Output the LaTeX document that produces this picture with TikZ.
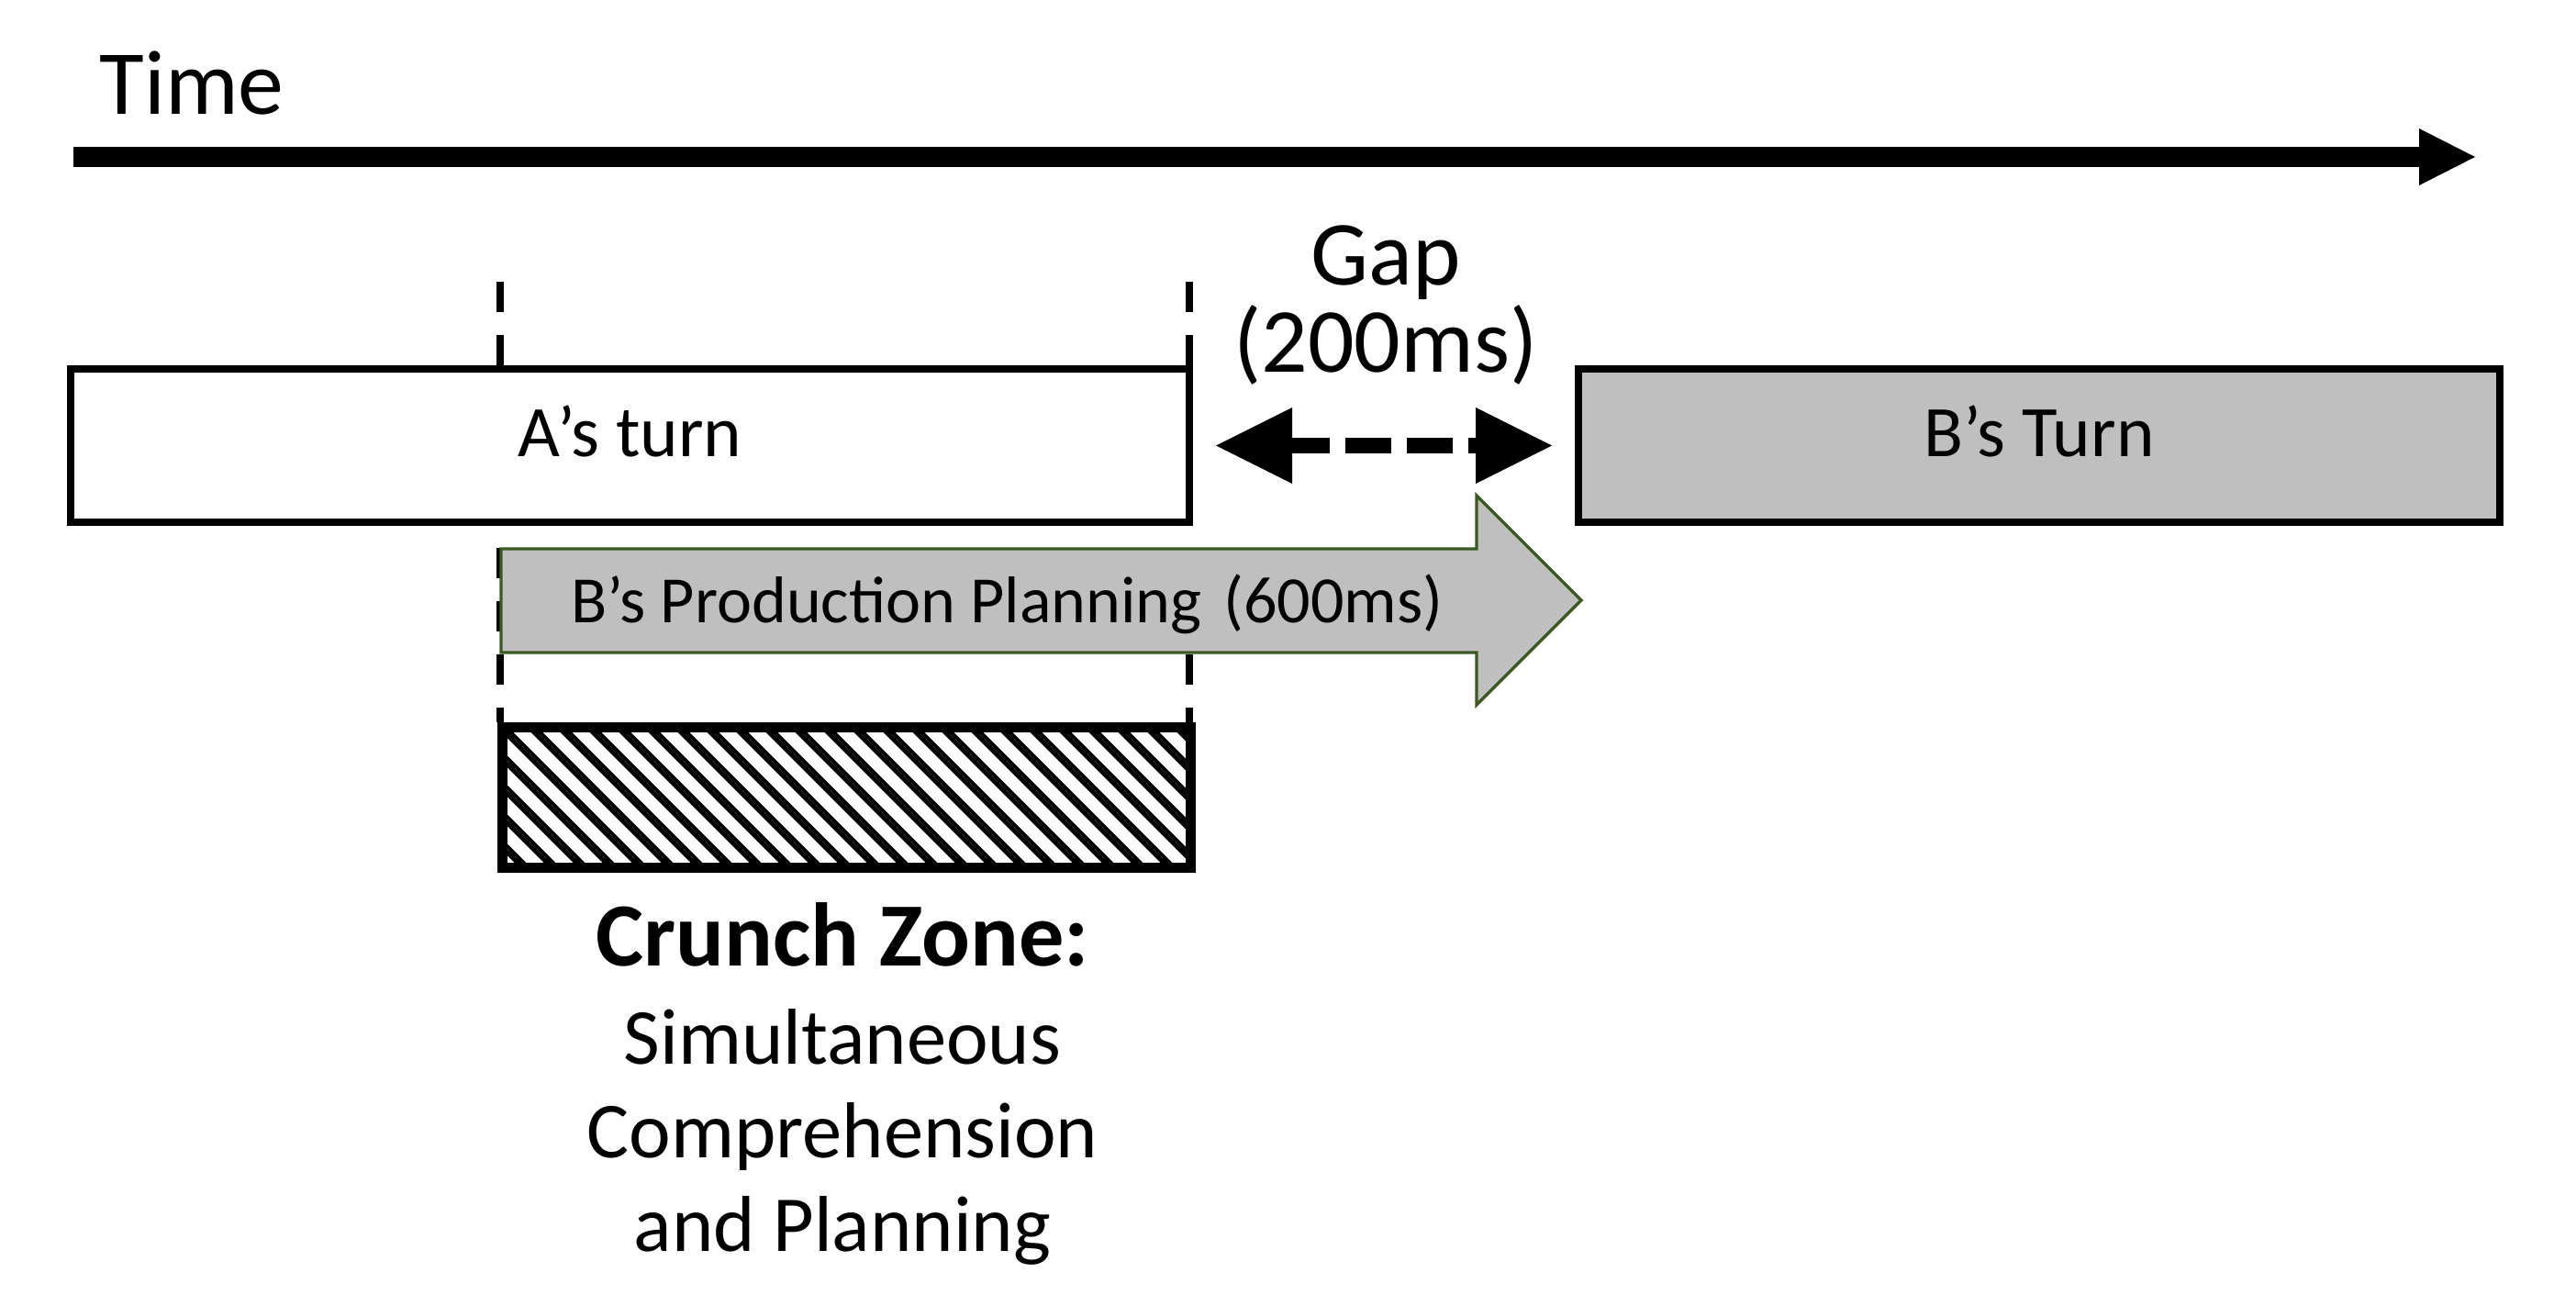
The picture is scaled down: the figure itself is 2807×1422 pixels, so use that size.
\documentclass[tikz,border=0pt]{standalone}
\usepackage{fontspec}
\setmainfont{Carlito}
\usetikzlibrary{%
  arrows.meta,%
  positioning,%
  backgrounds%
}

\begin{document}
\begin{tikzpicture}[
    x=0.1mm,y=-0.1mm,
    line join=miter,
    turnbox/.style={rectangle,draw,line width=0.8mm,inner sep=0pt,
        minimum height=16.7mm,text height=5mm,text depth=2.7mm,
        font=\fontsize{22.5pt}{27pt}\selectfont},
    timearrow/.style={line width=2.2mm,
        -{Triangle[length=6.1mm,width=6.2mm,line width=0pt]}},
    gaparrow/.style={line width=1.7mm,dash pattern=on 5mm off 1.7mm,dash phase=0.9mm,
        {Triangle[length=8.3mm,width=8.3mm,line width=0pt]}-{Triangle[length=8.3mm,width=8.3mm,line width=0pt]}},
    planarrow/.style={draw=planedge,fill=boxgray,line width=0.33mm},
    cutline/.style={line width=0.75mm,dash pattern=on 3.3mm off 2.5mm},
    hatchline/.style={line width=0.9mm},
    zonebox/.style={rectangle,draw,fill=white,line width=1.1mm,inner sep=0pt,
        minimum width=75mm,minimum height=15.3mm,
        path picture={\foreach \k in {-5,...,25}
            \draw[hatchline] ([xshift=\k*3.2mm]path picture bounding box.north west) -- ++(160,160);}},
    biglabel/.style={inner sep=0pt,font=\fontsize{28.4pt}{27pt}\selectfont},
    planlabel/.style={inner sep=0pt,font=\fontsize{20.5pt}{24pt}\selectfont},
    zonetitle/.style={inner sep=0pt,font=\fontsize{28pt}{30pt}\selectfont\bfseries},
    zonetext/.style={inner sep=0pt,align=center,font=\fontsize{24.6pt}{28.9pt}\selectfont}
  ]
    \definecolor{boxgray}{HTML}{BFBFBF}
    \definecolor{planedge}{HTML}{3A5A22}
    \useasboundingbox (0,0) rectangle (2807,1422);

    % time axis
    \coordinate (tstart) at (80,171);
    \coordinate (tend)   at (2697,171);
    \draw[timearrow] (tstart) -- (tend);
    \node[biglabel,anchor=base west] (timelabel) at (108,125) {Time};

    % the two turns
    \node[turnbox,fill=white,minimum width=121.9mm] (aturn) at (686.5,485.5) {A’s turn};
    \node[turnbox,fill=boxgray,minimum width=100.4mm] (bturn) at (2222,485.5) {B’s Turn};

    % gap between turns
    \draw[gaparrow] ([xshift=2.5mm]aturn.east) -- ([xshift=-2.5mm]bturn.west);
    \node[biglabel,anchor=base,align=center] (gaplabel) at (1510,405) {Gap\\(200ms)};

    % production planning
    \coordinate (plantail) at (546,654.5);
    \draw[planarrow] (plantail) ++(0,-56.5) -- ++(1063,0) -- ++(0,-58) -- ++(114,114)
        -- ++(-114,114) -- ++(0,-57) -- ++(-1063,0) -- cycle;
    \node[planlabel,anchor=base west] (planlabel) at (622,678)
        {B’s Production Planning\hspace{0.33em}(600ms)};

    % crunch zone
    \node[zonebox] (crunch) at (922,868.5) {};
    \node[zonetitle,anchor=base] (zonetitle) at (918,1052) {Crunch Zone:};
    \node[zonetext,anchor=base] (zonetext) at (918,1363)
        {Simultaneous\\Comprehension\\and Planning};

    % markers of the overlap
    \coordinate (cutL) at (545,307);
    \coordinate (cutR) at (1296,307);
    \begin{scope}[on background layer]
        \fill[white] (0,0) rectangle (2807,1422);
        \draw[cutline] (cutL) -- (cutL |- crunch.north);
        \draw[cutline] (cutR) -- (cutR |- crunch.north);
    \end{scope}
\end{tikzpicture}
\end{document}
